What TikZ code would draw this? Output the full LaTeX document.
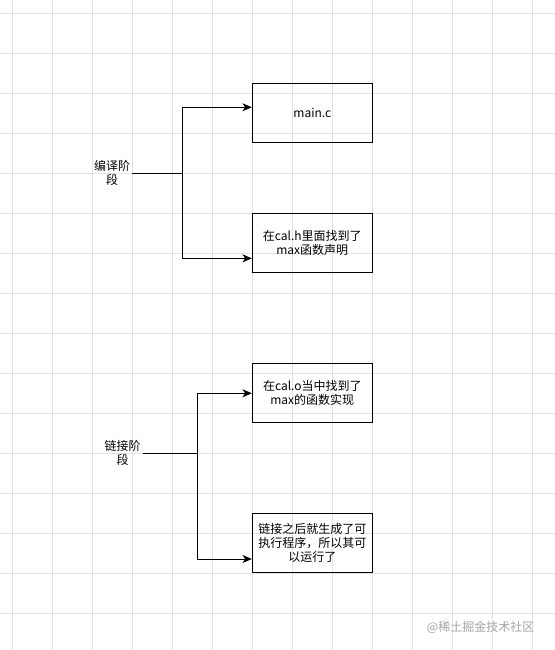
\documentclass[tikz,border=0pt]{standalone}
\usepackage{fontspec}
\newfontfamily\cjk{Noto Sans CJK SC}
\usepackage{xcolor}
\definecolor{gridgray}{RGB}{226,226,226}
\definecolor{markgray}{RGB}{165,165,165}
\usepackage{tikz}
\usetikzlibrary{arrows.meta, positioning, calc}

\begin{document}
\begin{tikzpicture}[x=0.75pt, y=-0.75pt,
    every node/.style={font=\cjk\fontsize{9}{10.6}\selectfont},
    gridline/.style={gridgray, line width=0.75pt},
    stagebox/.style={draw, line width=0.75pt, minimum width=90pt, minimum height=44.5pt,
      align=center, inner sep=0pt},
    stagelabel/.style={text width=30pt, align=center, inner sep=0pt},
    link/.style={line width=0.75pt},
    linkarrow/.style={line width=0.75pt, -{Stealth[length=7pt, width=6pt, inset=2pt]}}]

% --- Background and grid ---
\useasboundingbox (0,0) rectangle (555,650);
\fill[white] (0,0) rectangle (555,650);
\foreach \i in {0,...,13}
  \draw[gridline] (12.7+40*\i,0) -- ++(0,650);
\foreach \j in {0,...,15}
  \draw[gridline] (0,13.3+40*\j) -- ++(555,0);

% --- Compile stage ---
\node[stagelabel] (compile) at (112,173.3) {编译阶\\段};
\node[stagebox] (mainc) at (312.3,113) {main.c};
\node[stagebox] (calh) at (312.3,243) {在cal.h里面找到了\\max函数声明};
\coordinate (cjoin) at (182.3,173.3);
\draw[link] (compile.east) -- (cjoin);
\draw[linkarrow] (cjoin) |- ([yshift=4.3pt]mainc.west);
\draw[linkarrow] (cjoin) |- ([yshift=-11.5pt]calh.west);

% --- Link stage ---
\node[stagelabel] (linking) at (122.7,453.3) {链接阶\\段};
\node[stagebox] (calo) at (312.3,393) {在cal.o当中找到了\\max的函数实现};
\node[stagebox] (exe) at (312.3,543) {链接之后就生成了可\\执行程序，所以其可\\以运行了};
\coordinate (ljoin) at (197.3,453.3);
\draw[link] (linking.east) -- (ljoin);
\draw[linkarrow] (ljoin) |- ([yshift=-0.2pt]calo.west);
\draw[linkarrow] (ljoin) |- ([yshift=-12pt]exe.west);

% watermark
\node[markgray, anchor=east] (mark) at (539,627) {@稀土掘金技术社区};

\end{tikzpicture}
\end{document}
